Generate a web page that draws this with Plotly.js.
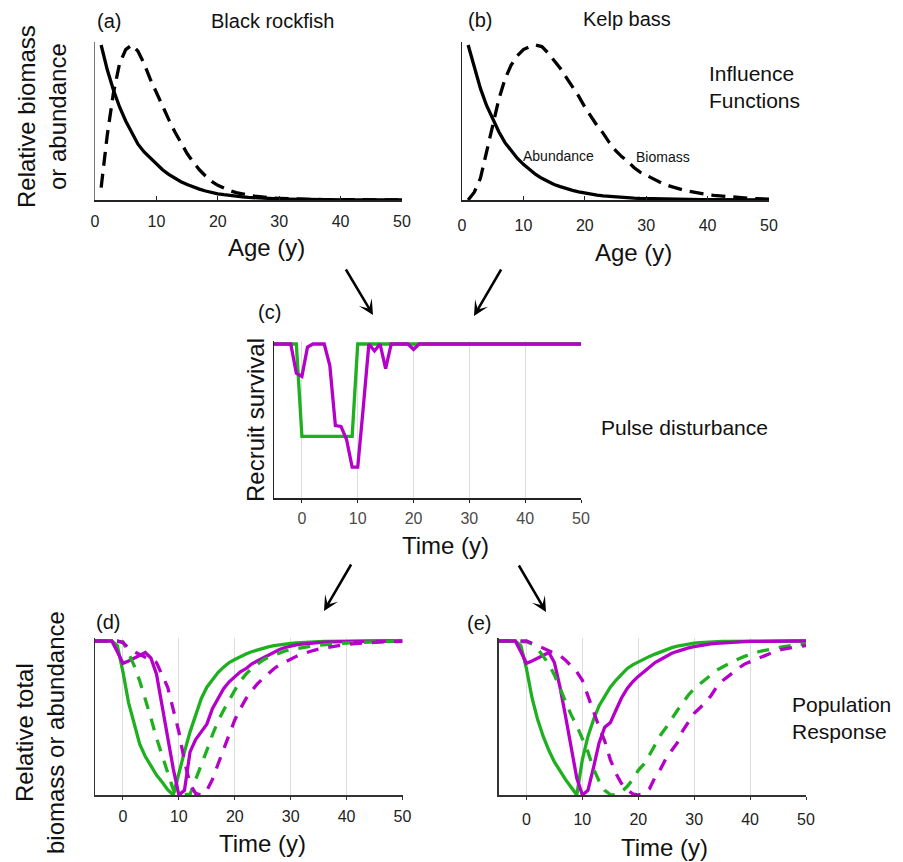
<!DOCTYPE html>
<html>
<head>
<meta charset="utf-8">
<script src="https://cdn.plot.ly/plotly-3.0.1.min.js"></script>
<style>html,body{margin:0;padding:0;background:#fff;}#chart{width:903px;height:862px;}</style>
</head>
<body>
<div id="chart"></div>
<script>
// ---------------- DATA ----------------
const ages = [1,2,3,4,5,6,7,8,9,10,11,12,13,14,15,16,17,18,19,20,21,22,23,24,25,26,27,28,29,30,31,32,33,34,35,36,37,38,39,40,41,42,43,44,45,46,47,48,49,50];

// (a) Black rockfish influence functions
const rockfishAbundance = [1.0,0.84,0.71,0.60,0.51,0.43,0.36,0.31,0.27,0.23,0.195,0.165,0.14,0.118,0.10,0.084,0.07,0.058,0.048,0.04,0.034,0.028,0.024,0.02,0.017,0.014,0.012,0.01,0.0085,0.007,0.006,0.005,0.0042,0.0035,0.003,0.0025,0.002,0.0017,0.0014,0.0012,0.001,0.0009,0.0008,0.0007,0.0006,0.0005,0.0004,0.0004,0.0003,0.0003];
const rockfishBiomass = [0.08,0.42,0.69,0.88,0.97,1.0,0.96,0.88,0.78,0.69,0.61,0.52,0.44,0.37,0.30,0.245,0.195,0.155,0.12,0.095,0.075,0.06,0.048,0.038,0.031,0.025,0.02,0.016,0.013,0.011,0.009,0.0075,0.006,0.005,0.004,0.0035,0.003,0.0025,0.002,0.0017,0.0015,0.0013,0.0011,0.001,0.0009,0.0008,0.0007,0.0006,0.0005,0.0005];

// (b) Kelp bass influence functions
const kelpAbundance = [1.0,0.85,0.72,0.61,0.52,0.44,0.37,0.32,0.27,0.23,0.195,0.165,0.14,0.12,0.10,0.086,0.073,0.062,0.053,0.045,0.038,0.032,0.027,0.023,0.02,0.017,0.014,0.012,0.01,0.0087,0.0074,0.0063,0.0053,0.0045,0.0038,0.0032,0.0027,0.0023,0.002,0.0017,0.0014,0.0012,0.001,0.0009,0.0008,0.0007,0.0006,0.0005,0.0004,0.0004];
const kelpBiomass = [0.0,0.05,0.14,0.30,0.48,0.65,0.78,0.87,0.93,0.97,0.99,1.0,0.99,0.95,0.90,0.85,0.79,0.73,0.67,0.60,0.54,0.48,0.43,0.37,0.32,0.28,0.25,0.21,0.18,0.16,0.14,0.12,0.10,0.088,0.075,0.065,0.056,0.048,0.041,0.035,0.03,0.026,0.022,0.019,0.016,0.013,0.011,0.009,0.007,0.006];

// time axis for (c), (d), (e)
const years = [-5,-4,-3,-2,-1,0,1,2,3,4,5,6,7,8,9,10,11,12,13,14,15,16,17,18,19,20,21,22,23,24,25,26,27,28,29,30,31,32,33,34,35,36,37,38,39,40,41,42,43,44,45,46,47,48,49,50];

// (c) recruit survival
const survivalGreen = [1,1,1,1,1,0.40,0.40,0.40,0.40,0.40,0.40,0.40,0.40,0.40,0.40,1,1,1,1,1,1,1,1,1,1,1,1,1,1,1,1,1,1,1,1,1,1,1,1,1,1,1,1,1,1,1,1,1,1,1,1,1,1,1,1,1];
const survivalMagenta = [1,1,1,1,0.81,0.79,0.98,1,1,1,0.86,0.47,0.465,0.38,0.20,0.20,0.59,1.0,0.955,1.0,0.84,1,1,1,1,0.965,1,1,1,1,1,1,1,1,1,1,1,1,1,1,1,1,1,1,1,1,1,1,1,1,1,1,1,1,1,1];

// (d) population response, black rockfish
const rockGreenAbund = [1,1,1,1,0.97,0.80,0.60,0.46,0.33,0.25,0.185,0.13,0.085,0.035,0.0,0.15,0.28,0.41,0.52,0.625,0.70,0.75,0.795,0.83,0.86,0.88,0.90,0.915,0.93,0.942,0.953,0.962,0.97,0.976,0.981,0.985,0.988,0.991,0.993,0.995,0.996,0.997,0.998,0.998,0.999,1,1,1,1,1,1,1,1,1,1,1];
const rockMagentaAbund = [1,1,1,1,0.93,0.855,0.87,0.89,0.905,0.925,0.89,0.785,0.58,0.38,0.17,0.0,0.03,0.28,0.36,0.41,0.46,0.56,0.63,0.69,0.735,0.77,0.80,0.82,0.85,0.87,0.89,0.91,0.93,0.945,0.958,0.968,0.975,0.98,0.984,0.987,0.99,0.992,0.994,0.995,0.996,0.997,0.998,0.998,0.999,0.999,0.999,1,1,1,1,1];
const rockGreenBiom = [1,1,1,1,1,0.995,0.92,0.84,0.74,0.625,0.50,0.37,0.255,0.14,0.035,0.0,0.0,0.005,0.10,0.19,0.29,0.39,0.48,0.55,0.62,0.68,0.74,0.785,0.82,0.85,0.875,0.895,0.91,0.925,0.935,0.945,0.952,0.958,0.963,0.968,0.972,0.976,0.979,0.982,0.985,0.987,0.989,0.991,0.992,0.994,0.995,0.996,0.997,0.998,0.999,1];
const rockMagentaBiom = [1,1,1,1,1,0.99,0.955,0.93,0.91,0.895,0.88,0.86,0.78,0.70,0.555,0.41,0.22,0.07,0.01,0.0,0.03,0.10,0.20,0.295,0.39,0.487,0.56,0.625,0.675,0.72,0.755,0.79,0.82,0.845,0.865,0.885,0.90,0.915,0.928,0.938,0.948,0.955,0.962,0.968,0.974,0.978,0.982,0.985,0.987,0.989,0.991,0.993,0.994,0.995,0.996,0.997];

// (e) population response, kelp bass
const kelpGreenAbund = [1,1,1,1,0.97,0.82,0.63,0.49,0.38,0.29,0.215,0.155,0.10,0.05,0.0,0.23,0.38,0.49,0.58,0.64,0.70,0.745,0.785,0.82,0.845,0.865,0.883,0.90,0.915,0.93,0.945,0.957,0.967,0.975,0.981,0.986,0.989,0.992,0.994,0.996,0.997,0.998,0.998,0.999,0.999,1,1,1,1,1,1,1,1,1,1,1];
const kelpMagentaAbund = [1,1,1,1,0.93,0.855,0.87,0.89,0.91,0.925,0.86,0.70,0.51,0.31,0.11,0.0,0.03,0.18,0.34,0.44,0.47,0.55,0.63,0.69,0.735,0.77,0.80,0.835,0.86,0.88,0.90,0.92,0.933,0.945,0.955,0.963,0.97,0.976,0.981,0.985,0.988,0.991,0.993,0.995,0.996,0.997,0.998,0.998,0.999,0.999,0.999,1,1,1,1,1];
const kelpGreenBiom = [1,1,1,1,1,0.995,0.98,0.95,0.90,0.85,0.78,0.69,0.60,0.52,0.45,0.37,0.28,0.17,0.09,0.03,0.003,0.0,0.02,0.055,0.10,0.16,0.20,0.26,0.33,0.39,0.44,0.50,0.55,0.60,0.65,0.69,0.72,0.75,0.785,0.81,0.83,0.85,0.87,0.885,0.90,0.915,0.925,0.935,0.943,0.95,0.957,0.963,0.968,0.973,0.978,0.982];
const kelpMagentaBiom = [1,1,1,1,1,1.0,0.985,0.97,0.955,0.94,0.925,0.905,0.875,0.84,0.80,0.745,0.64,0.53,0.44,0.35,0.23,0.14,0.075,0.035,0.008,0.0,0.01,0.04,0.115,0.17,0.24,0.29,0.34,0.42,0.48,0.53,0.565,0.60,0.645,0.70,0.74,0.77,0.795,0.825,0.85,0.865,0.885,0.90,0.915,0.93,0.94,0.948,0.955,0.96,0.965,0.97];

const tickVals = [0,10,20,30,40,50];
const tickLabels = ['0','10','20','30','40','50'];

// ---------------- STYLE / LAYOUT ----------------
const W = 903, H = 862;
const PX = v => v / W;
const PY = v => 1 - v / H;
const GREEN = '#1fb01f';
const MAGENTA = '#b400c8';
const FONT = 'Liberation Sans, Arial, Helvetica, sans-serif';
const TXT = '#111';
const DASH_K = '14px,8px';
const DASH_C = '12px,10px';
const LW = 3.3;

function tr(x, y, n, color, dash, width) {
  return {
    type: 'scatter', mode: 'lines', x: x, y: y,
    xaxis: 'x' + (n === 1 ? '' : n), yaxis: 'y' + (n === 1 ? '' : n),
    line: {color: color, width: width || LW, dash: dash || 'solid'},
    hoverinfo: 'skip', showlegend: false
  };
}

const data = [
  tr(ages, rockfishBiomass, 1, '#000', DASH_K),
  tr(ages, rockfishAbundance, 1, '#000'),
  tr(ages, kelpBiomass, 2, '#000', DASH_K),
  tr(ages, kelpAbundance, 2, '#000'),
  tr(years, survivalGreen, 3, GREEN),
  tr(years, survivalMagenta, 3, MAGENTA),
  tr(years, rockGreenAbund, 4, GREEN),
  tr(years, rockMagentaAbund, 4, MAGENTA),
  tr(years, rockGreenBiom, 4, GREEN, DASH_C),
  tr(years, rockMagentaBiom, 4, MAGENTA, DASH_C),
  tr(years, kelpGreenAbund, 5, GREEN),
  tr(years, kelpMagentaAbund, 5, MAGENTA),
  tr(years, kelpGreenBiom, 5, GREEN, DASH_C),
  tr(years, kelpMagentaBiom, 5, MAGENTA, DASH_C)
];

function xa(n, left, right, opts) {
  return Object.assign({
    domain: [PX(left), PX(right)],
    anchor: 'y' + (n === 1 ? '' : n),
    tickmode: 'array', tickvals: tickVals, ticktext: tickLabels,
    showline: true, linecolor: '#222', linewidth: 1.6,
    zeroline: false, showgrid: false,
    tickfont: {family: FONT, size: 16, color: '#222'},
    fixedrange: true
  }, opts);
}
function ya(n, top, bottom, opts) {
  return Object.assign({
    domain: [PY(bottom), PY(top)],
    anchor: 'x' + (n === 1 ? '' : n),
    range: [0, 1.02],
    showline: true, linecolor: '#222', linewidth: 1.4,
    showticklabels: false, ticks: '', zeroline: false, showgrid: false,
    fixedrange: true
  }, opts);
}

// pixel positions of each panel (0 -> 1 on y)
const topAB = 200 - 1.02 * 155, topC = 498 - 1.02 * 154, topDE = 795 - 1.02 * 154;

const layout = {
  width: W, height: H,
  margin: {l: 0, r: 0, t: 0, b: 0},
  paper_bgcolor: '#fff', plot_bgcolor: '#fff',
  showlegend: false,
  xaxis: xa(1, 95, 402, {range: [0, 50], ticks: 'inside', ticklen: 4, tickcolor: '#222', ticklabelstandoff: 6}),
  yaxis: ya(1, topAB, 200, {linecolor: '#777'}),
  xaxis2: xa(2, 462, 769, {range: [0, 50], ticks: 'inside', ticklen: 4, tickcolor: '#222', ticklabelstandoff: 10}),
  yaxis2: ya(2, topAB, 200, {linewidth: 1.2}),
  xaxis3: xa(3, 274, 581, {range: [-5, 50], ticks: 'outside', ticklen: 3, tickcolor: '#222', showgrid: true, gridcolor: '#dddddd', gridwidth: 1, tickfont: {family: FONT, size: 16, color: '#4a4a4a'}, ticklabelstandoff: 2}),
  yaxis3: ya(3, topC, 498),
  xaxis4: xa(4, 95, 402.5, {range: [-5, 50], ticks: 'outside', ticklen: 3, tickcolor: '#333', linecolor: '#333', showgrid: true, gridcolor: '#dddddd', gridwidth: 1, ticklabelstandoff: 3}),
  yaxis4: ya(4, topDE, 795, {linecolor: '#333'}),
  xaxis5: xa(5, 498.5, 806, {range: [-5, 50], ticks: 'outside', ticklen: 3, tickcolor: '#333', linecolor: '#333', showgrid: true, gridcolor: '#dddddd', gridwidth: 1, ticklabelstandoff: 6}),
  yaxis5: ya(5, topDE, 795, {linecolor: '#333'}),
  annotations: []
};

function txt(text, x, y, size, extra) {
  layout.annotations.push(Object.assign({
    text: text, x: PX(x), y: PY(y), xref: 'paper', yref: 'paper',
    xanchor: 'center', yanchor: 'middle', showarrow: false,
    font: {family: FONT, size: size, color: TXT}
  }, extra || {}));
}
function arrow(tipX, tipY, tailX, tailY) {
  layout.annotations.push({
    text: '', x: PX(tipX), y: PY(tipY), xref: 'paper', yref: 'paper',
    ax: tailX - tipX, ay: tailY - tipY, axref: 'pixel', ayref: 'pixel',
    showarrow: true, arrowhead: 3, arrowsize: 1, arrowwidth: 2.5,
    arrowcolor: '#000', standoff: 0, startstandoff: 0
  });
}

// panel labels and titles
txt('(a)', 109, 21, 20);
txt('Black rockfish', 272, 21, 20);
txt('(b)', 480, 20, 20);
txt('Kelp bass', 627, 19, 20);
txt('Influence<br>Functions', 707, 87, 21, {xanchor: 'left', align: 'left'});
txt('Abundance', 558, 156, 14);
txt('Biomass', 663, 157, 14);
txt('Age (y)', 266, 248, 24);
txt('Age (y)', 633, 253, 24);
txt('Relative biomass<br>or abundance', 42, 117, 24, {textangle: -90});

txt('(c)', 269, 312, 20);
txt('Recruit survival', 255, 420, 24, {textangle: -90});
txt('Time (y)', 445, 545, 24);
txt('Pulse disturbance', 599, 427, 21, {xanchor: 'left'});

txt('(d)', 108, 622, 20);
txt('Relative total<br>biomass or abundance', 40, 733, 24, {textangle: -90});
txt('Time (y)', 262, 843, 24);

txt('(e)', 479, 623, 20);
txt('Time (y)', 664, 847, 24);
txt('Population<br>Response', 790, 718, 21, {xanchor: 'left', align: 'left'});

// arrows
arrow(373, 315, 345, 268);
arrow(474, 316, 502, 268);
arrow(324, 611, 352, 563);
arrow(546, 612, 518, 564);

Plotly.newPlot('chart', data, layout, {staticPlot: true, displayModeBar: false});
</script>
</body>
</html>
